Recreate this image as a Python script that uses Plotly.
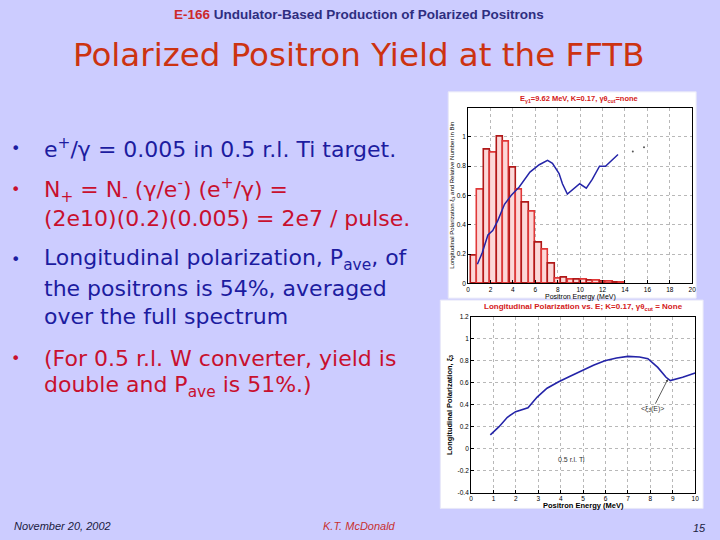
import plotly.graph_objects as go

# relative number of positrons per energy bin (top plot)
bin_energy = [0.54, 1.12, 1.69, 2.27, 2.84, 3.42, 3.99, 4.57, 5.14, 5.72, 6.29, 6.87,
              7.44, 8.02, 8.59, 9.17, 9.74, 10.32, 10.89, 11.47, 12.04, 12.62, 13.19, 13.77]
bin_number = [0.19, 0.64, 0.91, 0.89, 1.0, 0.97, 0.79, 0.64, 0.55, 0.49, 0.28, 0.23,
              0.135, 0.03, 0.04, 0.022, 0.028, 0.025, 0.02, 0.018, 0.015, 0.01, 0.006, 0.008]

# longitudinal polarization xi_3 vs energy, top plot (0-20 MeV scale)
top_energy = [0.83, 1.27, 1.77, 2.2, 2.66, 3.25, 3.84, 4.58, 5.52, 6.35, 7.09, 7.53,
              8.12, 8.42, 8.86, 9.37, 9.96, 10.55, 11.08, 11.73, 12.26, 13.38]
top_pol = [0.13, 0.21, 0.33, 0.36, 0.43, 0.54, 0.6, 0.66, 0.76, 0.81, 0.84, 0.82,
           0.75, 0.68, 0.61, 0.645, 0.68, 0.65, 0.71, 0.8, 0.8, 0.88]
stray_energy = [14.7, 15.7]
stray_pol = [0.9, 0.93]

# longitudinal polarization xi_3 vs energy, bottom plot (0-10 MeV scale)
pol_energy = [0.86, 1.25, 1.62, 1.99, 2.54, 2.95, 3.39, 3.91, 4.42, 4.94, 5.46, 5.97,
              6.49, 7.0, 7.52, 7.89, 8.33, 8.7, 8.89, 9.44, 10.0]
pol = [0.126, 0.2, 0.286, 0.337, 0.373, 0.47, 0.55, 0.61, 0.66, 0.71, 0.76, 0.8,
       0.825, 0.84, 0.835, 0.82, 0.74, 0.65, 0.62, 0.65, 0.69]

BG = "#ccccff"
BLUE = "#1c1ca0"
RED = "#c8102e"
W, H = 720, 540


def px(x):
    return x / W


def py(y):
    return 1 - y / H


fig = go.Figure()

bar_lines = ["#b01818", "#e03838"] * 12
fig.add_trace(go.Bar(x=bin_energy, y=bin_number, width=0.56,
                     marker=dict(color="#fcd8d8", line=dict(color=bar_lines, width=1.6)),
                     xaxis="x", yaxis="y", showlegend=False))
fig.add_trace(go.Scatter(x=top_energy, y=top_pol, mode="lines",
                         line=dict(color="#2424a8", width=1.5),
                         xaxis="x", yaxis="y", showlegend=False))
fig.add_trace(go.Scatter(x=stray_energy, y=stray_pol, mode="markers",
                         marker=dict(color="#555555", size=2),
                         xaxis="x", yaxis="y", showlegend=False))
fig.add_trace(go.Scatter(x=pol_energy, y=pol, mode="lines",
                         line=dict(color="#2424a8", width=1.6),
                         xaxis="x2", yaxis="y2", showlegend=False))

axis_style = dict(showline=True, mirror=True, linecolor="black", linewidth=1,
                  ticks="inside", ticklen=3, tickcolor="black",
                  showgrid=True, gridcolor="#b8b8b8", griddash="dot", gridwidth=1,
                  zeroline=False, tickfont=dict(family="Liberation Sans", size=6.5, color="black"))

fig.update_layout(
    width=W, height=H,
    margin=dict(l=0, r=0, t=0, b=0),
    paper_bgcolor=BG, plot_bgcolor="white",
    bargap=0,
    xaxis=dict(domain=[px(470), px(696)], range=[0, 20], tickvals=list(range(0, 21, 2)),
               anchor="y", **axis_style),
    yaxis=dict(domain=[py(283), py(105)], range=[0, 1.2],
               tickvals=[0, 0.2, 0.4, 0.6, 0.8, 1.0], ticktext=["0", "0.2", "0.4", "0.6", "0.8", "1"],
               anchor="x", **axis_style),
    xaxis2=dict(domain=[px(473), px(699)], range=[0, 10], tickvals=list(range(0, 11)),
                anchor="y2", **axis_style),
    yaxis2=dict(domain=[py(495), py(317)], range=[-0.4, 1.2],
                tickvals=[-0.4, -0.2, 0, 0.2, 0.4, 0.6, 0.8, 1.0, 1.2],
                ticktext=["-0.4", "-0.2", "0", "0.2", "0.4", "0.6", "0.8", "1", "1.2"],
                anchor="x2", **axis_style),
)

# white picture panels behind the two plots
fig.add_shape(type="rect", xref="paper", yref="paper", layer="below",
              x0=px(450), x1=px(700), y0=py(298), y1=py(89),
              fillcolor="white", line=dict(color="#e8e8f8", width=1))
fig.add_shape(type="rect", xref="paper", yref="paper", layer="below",
              x0=px(442), x1=px(707), y0=py(511), y1=py(300),
              fillcolor="white", line=dict(color="#e8e8f8", width=1))

ann = []


def text(x, y, s, size, color, family="DejaVu Sans", xanchor="left", **kw):
    ann.append(dict(x=px(x), y=py(y), xref="paper", yref="paper", text=s, showarrow=False,
                    xanchor=xanchor, yanchor="middle",
                    font=dict(family=family, size=size, color=color), **kw))


# header and title
text(360, 11, "<b><span style='color:#cc2a2a'>E-166</span> Undulator-Based Production of Polarized Positrons</b>",
     13.5, "#2e2e80", family="Liberation Sans Narrow, Liberation Sans", xanchor="center")
text(360, 52, "Polarized Positron Yield at the FFTB", 32.5, "#cc3311", xanchor="center")

# bullets
bullets = [
    (146, [(146, "e<sup>+</sup>/γ = 0.005 in 0.5 r.l. Ti target.")], BLUE),
    (188, [(188, "N<sub>+</sub> = N<sub>-</sub> (γ/e<sup>-</sup>) (e<sup>+</sup>/γ) ="),
           (217, "(2e10)(0.2)(0.005) = 2e7 / pulse.")], RED),
    (259, [(259, "Longitudinal polarization, P<sub>ave</sub>, of"),
           (288, "the positrons is 54%, averaged"),
           (317, "over the full spectrum")], BLUE),
    (359, [(359, "(For 0.5 r.l. W converter, yield is"),
           (388, "double and P<sub>ave</sub> is 51%.)")], RED),
]
for by, lines, col in bullets:
    text(7, by, "•", 16, col)
    for ly, s in lines:
        text(40, ly, s, 22, col)

# top plot labels
text(582, 96, "<b>E<sub>γ1</sub>=9.62 MeV, K=0.17, γθ<sub>cut</sub>=none</b>", 7.5, "#d42020",
     family="Liberation Sans", xanchor="center")
text(583, 297, "Positron Energy (MeV)", 7, "black", family="Liberation Sans", xanchor="center")
text(454, 194, "Longitudinal Polarization ξ<sub>3</sub> and Relative Number in Bin", 6, "black",
     family="Liberation Sans", xanchor="center", textangle=-90)

# bottom plot labels
text(586, 307, "<b>Longitudinal Polarization vs. E; K=0.17, γθ<sub>cut</sub> = None</b>", 8, "#d42020",
     family="Liberation Sans", xanchor="center")
text(586, 508.5, "<b>Positron Energy (MeV)</b>", 7.5, "black", family="Liberation Sans", xanchor="center")
text(451, 406, "<b>Longitudinal Polarization, ξ<sub>3</sub></b>", 7.5, "black",
     family="Liberation Sans", xanchor="center", textangle=-90)
ann.append(dict(x=4.5, y=-0.1, xref="x2", yref="y2", text="0.5 r.l. Ti", showarrow=False,
                font=dict(family="Liberation Sans", size=7, color="#333333")))
ann.append(dict(x=8.8, y=0.64, xref="x2", yref="y2", ax=8.1, ay=0.36, axref="x2", ayref="y2",
                text="<ξ<sub>3</sub>(E)>", showarrow=True, arrowhead=2, arrowsize=0.6,
                arrowwidth=0.8, arrowcolor="#333333", standoff=1,
                font=dict(family="Liberation Sans", size=7, color="#333333")))

# footer
text(10, 529, "<i>November 20, 2002</i>", 11, "#1a1a40", family="Liberation Sans")
text(360, 529, "<i>K.T. McDonald</i>", 11, "#c83030", family="Liberation Sans", xanchor="center")
text(712, 531, "<i>15</i>", 11, "#1a1a40", family="Liberation Sans", xanchor="right")

fig.update_layout(annotations=ann)
fig.write_html("out.html", config={"displayModeBar": False},
               post_script="document.body.style.margin='0';document.body.style.overflow='hidden';")
